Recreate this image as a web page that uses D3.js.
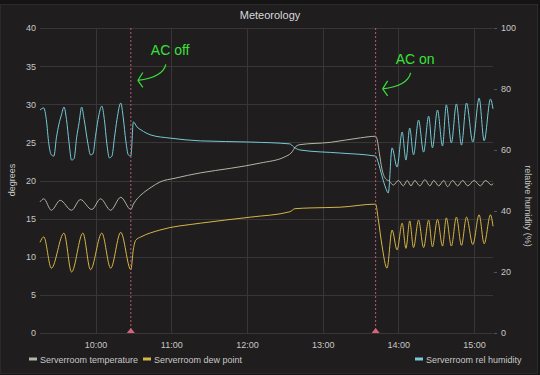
<!DOCTYPE html>
<html>
<head>
<meta charset="utf-8">
<script src="https://cdn.jsdelivr.net/npm/d3@7"></script>
<style>
  body { margin: 0; background: #151414; }
  svg { display: block; font-family: "Liberation Sans", Arial, sans-serif; }
</style>
</head>
<body>
<svg id="chart" width="540" height="375"></svg>
<script>
// ---- data ----
var timeRange = ["09:16", "15:15"];
var hourTicks = ["10:00", "11:00", "12:00", "13:00", "14:00", "15:00"];
var degreeTicks = [0, 5, 10, 15, 20, 25, 30, 35, 40];
var humidityTicks = [0, 20, 40, 60, 80, 100];

var seriesNames = ["Serverroom temperature", "Serverroom dew point", "Serverroom rel humidity"];

// degrees C, left axis
var temperature = [
  ["09:16", 17.2], ["09:19", 17.6], ["09:25", 16.1], ["09:32", 17.4], ["09:41", 16.1],
  ["09:48", 17.5], ["09:57", 16.2], ["10:04", 17.6], ["10:12", 16.1], ["10:20", 17.8],
  ["10:28", 16.2], ["10:30", 16.9], ["10:32", 17.4], ["10:36", 18.1], ["10:44", 19.1],
  ["10:51", 19.8], ["11:03", 20.3], ["11:23", 21.0], ["11:47", 21.6], ["12:11", 22.3],
  ["12:30", 23.1], ["12:35", 23.6], ["12:39", 24.5], ["12:42", 24.7], ["13:06", 25.0],
  ["13:30", 25.6], ["13:42", 25.8], ["13:43", 25.5], ["13:45", 23.5], ["13:47", 21.5],
  ["13:50", 20.2], ["13:53", 19.9], ["13:56", 19.4], ["14:00", 20.0], ["14:04", 19.3],
  ["14:07", 20.0], ["14:10", 19.3], ["14:13", 20.0], ["14:17", 19.3], ["14:21", 20.1],
  ["14:25", 19.3], ["14:28", 20.0], ["14:32", 19.3], ["14:36", 20.0], ["14:39", 19.2],
  ["14:43", 20.0], ["14:47", 19.3], ["14:51", 20.0], ["14:55", 19.3], ["15:00", 20.0],
  ["15:05", 19.3], ["15:09", 20.0], ["15:14", 19.4], ["15:15", 19.6]
];

// degrees C, left axis
var dewPoint = [
  ["09:16", 11.9], ["09:19", 12.6], ["09:25", 8.5], ["09:35", 13.1], ["09:41", 8.0],
  ["09:50", 13.1], ["09:56", 8.3], ["10:05", 13.1], ["10:12", 8.5], ["10:20", 13.2],
  ["10:28", 8.3], ["10:30", 11.0], ["10:32", 12.2], ["10:36", 12.6], ["10:51", 13.5],
  ["11:23", 14.4], ["12:03", 15.2], ["12:34", 15.9], ["12:38", 16.3], ["12:50", 16.4],
  ["13:14", 16.5], ["13:42", 16.9], ["13:44", 15.0], ["13:47", 11.5], ["13:51", 8.5],
  ["13:55", 13.5], ["13:59", 10.9], ["14:03", 14.4], ["14:06", 11.1], ["14:09", 14.7],
  ["14:12", 11.2], ["14:16", 14.8], ["14:20", 11.2], ["14:24", 14.8], ["14:27", 11.3],
  ["14:31", 14.9], ["14:35", 11.4], ["14:38", 15.1], ["14:42", 11.4], ["14:46", 15.2],
  ["14:50", 11.5], ["14:54", 15.2], ["14:59", 11.6], ["15:04", 15.5], ["15:08", 11.7],
  ["15:13", 15.5], ["15:15", 14.0]
];

// percent, right axis
var relHumidity = [
  ["09:16", 73.1], ["09:19", 73.8], ["09:21", 70.0], ["09:23", 62.0], ["09:25", 58.4],
  ["09:27", 58.0], ["09:29", 64.0], ["09:31", 68.5], ["09:33", 71.5], ["09:35", 74.1],
  ["09:37", 70.0], ["09:39", 62.5], ["09:41", 56.7], ["09:43", 57.2], ["09:45", 64.0],
  ["09:47", 69.0], ["09:49", 74.1], ["09:51", 70.0], ["09:54", 62.0], ["09:56", 58.4],
  ["09:58", 58.8], ["10:00", 64.5], ["10:02", 70.0], ["10:05", 74.4], ["10:07", 70.0],
  ["10:09", 62.0], ["10:11", 57.4], ["10:13", 58.0], ["10:15", 64.0], ["10:17", 70.0],
  ["10:20", 75.4], ["10:22", 70.5], ["10:24", 63.0], ["10:26", 58.4], ["10:28", 58.0],
  ["10:30", 69.2], ["10:33", 67.5], ["10:36", 66.6], ["10:44", 64.9], ["10:59", 63.9],
  ["11:23", 63.0], ["12:03", 62.6], ["12:34", 62.0], ["12:37", 61.0], ["12:42", 60.0],
  ["13:14", 59.0], ["13:42", 58.0], ["13:44", 56.0], ["13:47", 51.5], ["13:50", 47.5],
  ["13:52", 45.9], ["13:55", 60.7], ["13:59", 54.4], ["14:03", 65.9], ["14:06", 56.7],
  ["14:09", 67.2], ["14:12", 58.4], ["14:16", 69.8], ["14:20", 59.3], ["14:24", 71.1],
  ["14:27", 60.7], ["14:31", 73.1], ["14:35", 61.3], ["14:38", 74.8], ["14:42", 62.3],
  ["14:46", 75.1], ["14:50", 61.6], ["14:54", 75.4], ["14:59", 62.6], ["15:04", 77.0],
  ["15:08", 63.0], ["15:13", 76.7], ["15:15", 73.5]
];

var events = [
  { label: "AC off", time: "10:28", level: 36.4 },
  { label: "AC on", time: "13:42", level: 35.3 }
];

// ---- layout ----
var width = 540, height = 375;
var plotLeft = 40, plotRight = 493, plotTop = 28, plotBottom = 333;
var colors = ["#aeb8a4", "#d6b646", "#76c9d6"];

var parseTime = d3.timeParse("%H:%M");

var x = d3.scaleTime()
  .domain(timeRange.map(parseTime))
  .range([plotLeft, plotRight]);

var yLeft = d3.scaleLinear().domain([0, 40]).range([plotBottom, plotTop]);
var yRight = d3.scaleLinear().domain([0, 100]).range([plotBottom, plotTop]);

var svg = d3.select("#chart");

// panel
svg.append("rect")
  .attr("x", 0.5).attr("y", 4.5)
  .attr("width", width - 3).attr("height", height - 6)
  .attr("fill", "#1f1d1d")
  .attr("stroke", "#2b2929");

// title
svg.append("text")
  .attr("x", 270).attr("y", 19)
  .attr("text-anchor", "middle")
  .attr("fill", "#d8d9da")
  .style("font-size", "11px")
  .text("Meteorology");

// grid
var gridColor = "#383636";
svg.append("g").selectAll("line")
  .data(degreeTicks)
  .enter().append("line")
  .attr("x1", plotLeft).attr("x2", plotRight)
  .attr("y1", function (d) { return Math.round(yLeft(d)) + 0.5; })
  .attr("y2", function (d) { return Math.round(yLeft(d)) + 0.5; })
  .attr("stroke", gridColor);

svg.append("g").selectAll("line")
  .data(hourTicks)
  .enter().append("line")
  .attr("x1", function (d) { return Math.round(x(parseTime(d))) + 0.5; })
  .attr("x2", function (d) { return Math.round(x(parseTime(d))) + 0.5; })
  .attr("y1", plotTop).attr("y2", plotBottom)
  .attr("stroke", gridColor);

// axes
var tickColor = "#c8c8c8";
var leftAxis = d3.axisLeft(yLeft).tickValues(degreeTicks).tickSize(0).tickPadding(4);
var gl = svg.append("g")
  .attr("transform", "translate(" + plotLeft + ",0)")
  .call(leftAxis);

var rightAxis = d3.axisRight(yRight).tickValues(humidityTicks).tickSize(3).tickPadding(4);
var gr = svg.append("g")
  .attr("transform", "translate(" + (plotRight + 1) + ",0)")
  .call(rightAxis);

var bottomAxis = d3.axisBottom(x)
  .tickValues(hourTicks.map(parseTime))
  .tickFormat(d3.timeFormat("%H:%M"))
  .tickSize(0).tickPadding(9);
var gb = svg.append("g")
  .attr("transform", "translate(0," + plotBottom + ")")
  .call(bottomAxis);

[gl, gr, gb].forEach(function (g) {
  g.select(".domain").remove();
  g.selectAll("text")
    .attr("fill", tickColor)
    .style("font-family", "Liberation Sans, Arial, sans-serif")
    .style("font-size", "9px");
  g.selectAll("line").attr("stroke", "#555");
});

// axis titles
svg.append("text")
  .attr("transform", "translate(15,180) rotate(-90)")
  .attr("text-anchor", "middle")
  .attr("fill", tickColor)
  .style("font-size", "9px")
  .text("degrees");

svg.append("text")
  .attr("transform", "translate(525,206) rotate(90)")
  .attr("text-anchor", "middle")
  .attr("fill", tickColor)
  .style("font-size", "9px")
  .text("relative humidity (%)");

// series
var lineLeft = d3.line()
  .x(function (d) { return x(parseTime(d[0])); })
  .y(function (d) { return yLeft(d[1]); })
  .curve(d3.curveMonotoneX);

var lineRight = d3.line()
  .x(function (d) { return x(parseTime(d[0])); })
  .y(function (d) { return yRight(d[1]); })
  .curve(d3.curveMonotoneX);

svg.append("path").datum(relHumidity)
  .attr("d", lineRight).attr("fill", "none")
  .attr("stroke", colors[2]).attr("stroke-width", 1);

svg.append("path").datum(temperature)
  .attr("d", lineLeft).attr("fill", "none")
  .attr("stroke", colors[0]).attr("stroke-width", 1);

svg.append("path").datum(dewPoint)
  .attr("d", lineLeft).attr("fill", "none")
  .attr("stroke", colors[1]).attr("stroke-width", 1);

// event annotations
var ev = svg.selectAll(".event")
  .data(events)
  .enter().append("g")
  .attr("class", "event")
  .attr("transform", function (d) { return "translate(" + x(parseTime(d.time)) + ",0)"; });

ev.append("line")
  .attr("y1", plotTop).attr("y2", plotBottom)
  .attr("stroke", "#b85c78")
  .attr("stroke-width", 1)
  .attr("stroke-dasharray", "2,2");

ev.append("path")
  .attr("d", "M-4," + plotBottom + "L0," + (plotBottom - 5) + "L4," + plotBottom + "Z")
  .attr("fill", "#d9627f");

var green = "#3be03b";
ev.append("text")
  .attr("x", 20)
  .attr("y", function (d) { return yLeft(d.level); })
  .attr("fill", green)
  .style("font-size", "14px")
  .text(function (d) { return d.label; });

ev.append("path")
  .attr("transform", function (d) { return "translate(0," + (yLeft(d.level) + 9) + ")"; })
  .attr("d", "M35,0 Q32,13 7,16 M7,16 L12,8 M7,16 L12,23")
  .attr("fill", "none")
  .attr("stroke", green)
  .attr("stroke-width", 1.2);

// legend
var legendItems = [
  { name: seriesNames[0], color: colors[0], x: 29 },
  { name: seriesNames[1], color: colors[1], x: 143 },
  { name: seriesNames[2], color: colors[2], x: 415 }
];
var lg = svg.selectAll(".legend")
  .data(legendItems)
  .enter().append("g")
  .attr("class", "legend")
  .attr("transform", function (d) { return "translate(" + d.x + ",359)"; });

lg.append("rect")
  .attr("x", 0).attr("y", -1.5)
  .attr("width", 8).attr("height", 3)
  .attr("fill", function (d) { return d.color; });

lg.append("text")
  .attr("x", 11).attr("y", 3.5)
  .attr("fill", tickColor)
  .style("font-size", "9px")
  .text(function (d) { return d.name; });
</script>
</body>
</html>
